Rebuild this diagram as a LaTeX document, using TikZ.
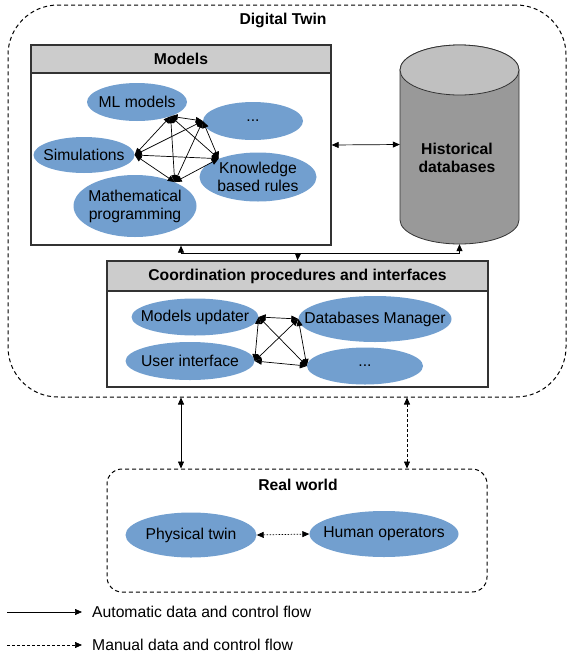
\documentclass[tikz,border=0pt]{standalone}
\usepackage{fontspec}
\setmainfont{Liberation Sans}
\usetikzlibrary{positioning}
\usetikzlibrary{arrows.meta}
\usetikzlibrary{shapes.geometric}

\definecolor{ellblue}{HTML}{729FCF}
\definecolor{hdgray}{HTML}{CCCCCC}
\definecolor{dbbody}{HTML}{999999}
\definecolor{dbtop}{HTML}{C0C0C0}
\definecolor{edge}{HTML}{333333}

\begin{document}
\begin{tikzpicture}[x=1pt,y=-1pt,font=\fontsize{15.7}{18}\selectfont,
 ell/.style={ellipse,fill=ellblue,inner xsep=-40pt,inner ysep=-3pt,align=center},
 box/.style={rectangle,draw=edge,line width=1.3pt,inner sep=0pt},
 hd/.style={rectangle,draw=edge,line width=1.3pt,fill=hdgray,inner sep=0pt,font=\fontsize{15.7}{18}\selectfont\bfseries},
 zone/.style={rectangle,draw=black,dash pattern=on 4pt off 3pt,line width=1pt,inner sep=0pt},
 ttl/.style={font=\fontsize{15.7}{18}\selectfont\bfseries},
 link/.style={{Triangle[length=7pt,width=6pt]}-{Triangle[length=7pt,width=6pt]},line width=0.7pt},
 tip/.style={-{Triangle[length=7pt,width=6pt]},line width=0.7pt},
 manual/.style={dash pattern=on 3pt off 2pt},
 tiny/.style={dash pattern=on 1.5pt off 1.5pt}]
 \useasboundingbox (0,0) rectangle (568,659);

 % digital twin
 \node[zone,rounded corners=50pt,minimum width=558pt,minimum height=392pt] (dt) at (287,201) {};
 \node[ttl] (dtlabel) at (283,20) {Digital Twin};

 % models
 \node[box,minimum width=300pt,minimum height=200pt] (models) at (181,145) {};
 \node[hd,minimum width=300pt,minimum height=28pt] (modelshd) at (181,59) {Models};
 \node[ell,minimum width=100pt,minimum height=38pt] (ml) at (137,102) {ML models};
 \node[ell,minimum width=100pt,minimum height=38pt] (dotsa) at (253,121) {...};
 \node[ell,minimum width=101pt,minimum height=36pt] (sim) at (84,155) {Simulations};
 \node[ell,minimum width=117pt,minimum height=49pt] (know) at (258,177) {Knowledge\\based rules};
 \node[ell,minimum width=123pt,minimum height=62pt] (math) at (135,206) {Mathematical\\programming};
 \draw[link] (ml.-23) -- (dotsa.west);
 \draw[link] (ml.-23) -- (sim.east);
 \draw[link] (ml.-23) -- (know.155);
 \draw[link] (ml.-23) -- (math.31);
 \draw[link] (dotsa.west) -- (sim.east);
 \draw[link] (dotsa.west) -- (know.155);
 \draw[link] (dotsa.west) -- (math.31);
 \draw[link] (sim.east) -- (know.155);
 \draw[link] (sim.east) -- (math.31);
 \draw[link] (know.155) -- (math.31);

 % historical databases
 \node[inner sep=0pt,minimum width=119pt,minimum height=199pt] (db) at (459.5,144.5) {};
 \draw[draw=edge,line width=0.8pt,fill=dbbody] (400,70) -- (400,220)
   arc[start angle=180,end angle=0,x radius=59.5,y radius=24] -- (519,70)
   arc[start angle=0,end angle=-180,x radius=59.5,y radius=25] -- cycle;
 \draw[draw=edge,line width=0.8pt,fill=dbtop] (459.5,70) ellipse[x radius=59.5,y radius=25];
 \node[ttl,align=center] (dblabel) at (457,158) {Historical\\databases};
 \draw[link] (models.east) -- (db.west);

 % coordination
 \node[box,minimum width=381pt,minimum height=126pt] (coordbox) at (297.5,324) {};
 \node[hd,minimum width=381pt,minimum height=30pt] (coordhd) at (297.5,276) {Coordination procedures and interfaces};
 \node[ell,minimum width=127pt,minimum height=37pt] (mu) at (195,317) {Models updater};
 \node[ell,minimum width=153pt,minimum height=46pt] (dm) at (375,319) {Databases Manager};
 \node[ell,minimum width=129pt,minimum height=38pt] (ui) at (190,361) {User interface};
 \node[ell,minimum width=116pt,minimum height=37pt] (dotsb) at (365,366) {...};
 \draw[link] (mu.east) -- (dm.west);
 \draw[link] (mu.east) -- (ui.east);
 \draw[link] (mu.east) -- (dotsb.west);
 \draw[link] (ui.east) -- (dm.west);
 \draw[link] (ui.east) -- (dotsb.west);
 \draw[link] (dm.west) -- (dotsb.west);

 \coordinate (bus) at (298,253);
 \draw[tip] (bus) -- (coordhd.north);
 \draw[tip] (bus) -| (models.south);
 \draw[tip] (bus) -| (db.south);

 % real world
 \node[zone,rounded corners=15pt,minimum width=380pt,minimum height=123pt] (rw) at (297,530.5) {};
 \node[ttl] (rwlabel) at (298,485) {Real world};
 \node[ell,minimum width=131pt,minimum height=45pt] (pt) at (191,535) {Physical twin};
 \node[ell,minimum width=149pt,minimum height=46pt] (ho) at (384,534) {Human operators};
 \draw[link,tiny] (pt.east) -- (ho.west);

 \coordinate (manx) at (407,430);
 \draw[link] (dt.south -| models.south) -- (rw.north -| models.south);
 \draw[link,manual] (dt.south -| manx) -- (rw.north -| manx);

 % legend
 \coordinate (autostart) at (7,612);
 \node[anchor=west,inner sep=0pt] (autotxt) at (92,612) {Automatic data and control flow};
 \draw[tip] (autostart) -- ([xshift=-10pt]autotxt.west);
 \coordinate (manstart) at (7,645);
 \node[anchor=west,inner sep=0pt] (mantxt) at (92,645) {Manual data and control flow};
 \draw[tip,manual] (manstart) -- ([xshift=-10pt]mantxt.west);
\end{tikzpicture}
\end{document}
